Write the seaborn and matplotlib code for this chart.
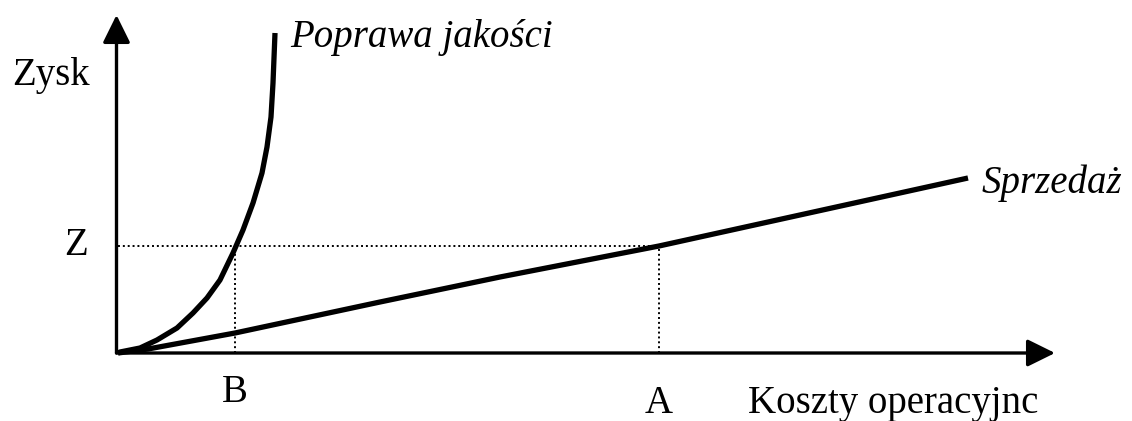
import matplotlib
matplotlib.use("Agg")
import matplotlib.pyplot as plt
import seaborn as sns
import pandas as pd

# ---- data (units: x = operating costs, y = profit) ----
poprawa_x = [0.0, 0.2, 2.2, 3.9, 5.9, 7.5, 8.9, 10.2, 11.5, 12.5, 13.5, 14.4, 14.9, 15.3, 15.5, 15.7]
poprawa_y = [0.0, 0.1, 0.5, 1.3, 2.5, 4.0, 5.5, 7.3, 10.0, 12.3, 15.0, 18.0, 20.6, 23.6, 27.0, 32.0]

sprzedaz_x = [0.0, 3.0, 11.7, 26.2, 38.2, 54.1, 85.0]
sprzedaz_y = [0.0, 0.4, 2.0, 5.1, 7.6, 10.7, 17.5]

level_Z = 10.7
point_B = 11.7
point_A = 54.1
x_axis_end = 93.7
y_axis_end = 33.8

series_labels = ["Poprawa jakości", "Sprzedaż"]
axis_labels = {"x": "Koszty operacyjnc", "y": "Zysk"}
marker_labels = {"Z": "Z", "B": "B", "A": "A"}

sns.set_theme(style="white")
plt.rcParams["font.family"] = ["Liberation Serif", "DejaVu Serif"]
plt.rcParams["text.color"] = "black"

fig = plt.figure(figsize=(11.32, 4.21), dpi=100)
ax = fig.add_axes([0, 0, 1, 1])
ax.set_xlim(-11.8, 101.4)
ax.set_ylim(-6.8, 35.3)
ax.axis("off")

df_p = pd.DataFrame({"x": poprawa_x, "y": poprawa_y})
df_s = pd.DataFrame({"x": sprzedaz_x, "y": sprzedaz_y})
sns.lineplot(data=df_p, x="x", y="y", ax=ax, color="black", lw=3.8, sort=False,
             solid_capstyle="butt", solid_joinstyle="round")
sns.lineplot(data=df_s, x="x", y="y", ax=ax, color="black", lw=3.8, sort=False,
             solid_capstyle="butt", solid_joinstyle="round")

# dotted guide lines
dot = dict(color="black", lw=1.4, linestyle=(0, (1, 1.5)))
ax.plot([0, point_A], [level_Z, level_Z], **dot)
ax.plot([point_B, point_B], [0, level_Z], **dot)
ax.plot([point_A, point_A], [0, level_Z], **dot)

# axes with arrows
arrow = dict(arrowstyle="-|>,head_length=0.85,head_width=0.42", lw=2.4,
             color="black", mutation_scale=20, shrinkA=0, shrinkB=0)
ax.annotate("", xy=(x_axis_end, 0), xytext=(-0.15, 0), arrowprops=arrow)
ax.annotate("", xy=(-0.15, y_axis_end), xytext=(-0.15, 0), arrowprops=arrow)

fs = 28
tk = dict(fontsize=fs, color="black", va="baseline")
ax.text(-10.6, 26.8, axis_labels["y"], ha="left", **tk)
ax.text(-4.2, 9.8, marker_labels["Z"], ha="center", **tk)
ax.text(point_B, -4.9, marker_labels["B"], ha="center", **tk)
ax.text(point_A, -6.0, marker_labels["A"], ha="center", **tk)
ax.text(63.0, -6.0, axis_labels["x"], ha="left", **tk)
ax.text(17.2, 30.6, series_labels[0], style="italic", ha="left", **tk)
ax.text(86.4, 16.0, series_labels[1], style="italic", ha="left", **tk)

fig.savefig("out.png", dpi=100)
